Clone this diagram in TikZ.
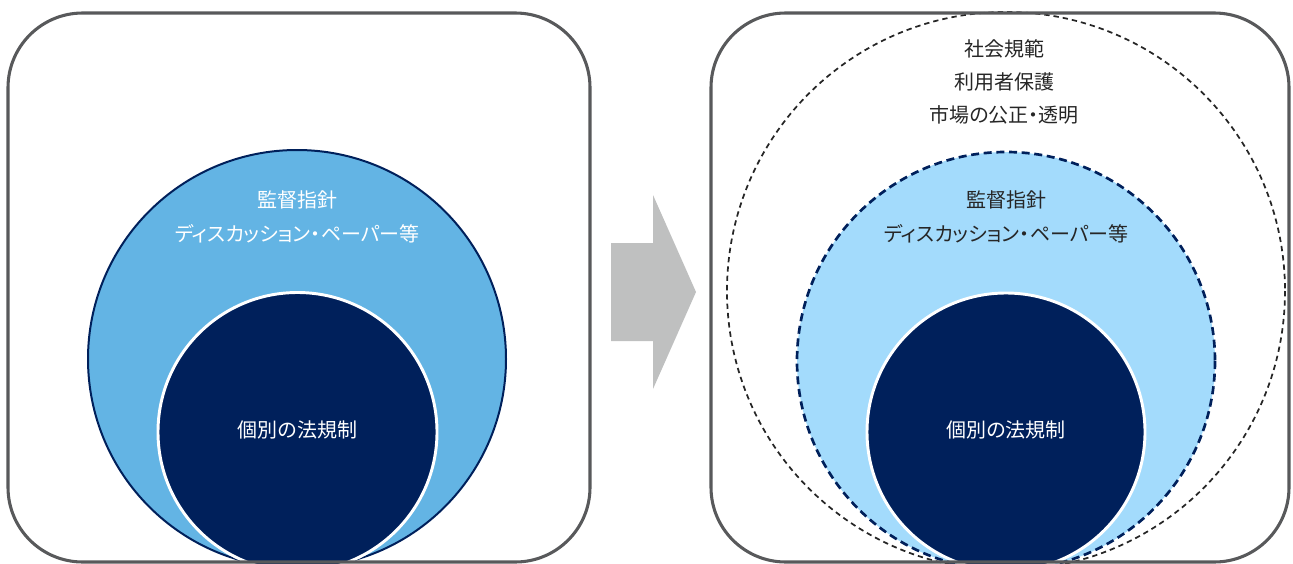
\documentclass[tikz,border=0pt]{standalone}
\usepackage{fontspec}
\newfontfamily\jpfont[RawFeature=+palt]{Noto Sans CJK JP}
\usetikzlibrary{positioning}
\definecolor{boxgray}{RGB}{88,89,91}
\definecolor{navy}{RGB}{0,32,91}
\definecolor{skyblue}{RGB}{99,180,228}
\definecolor{paleblue}{RGB}{163,219,252}
\definecolor{arrowgray}{RGB}{191,192,192}
\definecolor{textdark}{RGB}{38,38,38}

\begin{document}
\begin{tikzpicture}[x=0.75pt, y=-0.75pt,
    panel/.style={draw=boxgray, line width=2.3pt, rounded corners=56pt},
    lbl/.style={font=\jpfont\fontsize{15}{25}\selectfont, align=center, inner sep=0pt}]
\useasboundingbox (0,0) rectangle (1293,564);
\clip (0,0) rectangle (1293,564);

\begin{scope}
\filldraw[fill=skyblue, draw=navy, line width=1.5pt] (297,359) circle (209);
\filldraw[fill=navy, draw=white, line width=2.2pt] (297.5,432) circle (139.5);
\node[lbl, text=white] (guideL) at (297,217) {監督指針\\ディスカッション・ペーパー等};
\node[lbl, text=white] (lawL) at (297.5,430) {個別の法規制};
\draw[panel] (8,13) rectangle (590,562);
\end{scope}

\fill[arrowgray] (611,243) -- (653,243) -- (653,195) -- (696,292)
    -- (653,389) -- (653,341) -- (611,341) -- cycle;

\begin{scope}
\draw[black!85, line width=1.3pt, dash pattern=on 4pt off 3pt] (1006,291) circle (279);
\filldraw[fill=paleblue, draw=navy, line width=2pt, dash pattern=on 6pt off 3.5pt] (1006,361) circle (209);
\filldraw[fill=navy, draw=white, line width=2.2pt] (1006,432) circle (139);
\node[lbl, text=textdark] (normR) at (1004,82) {社会規範\\利用者保護\\市場の公正・透明};
\node[lbl, text=textdark] (guideR) at (1006,217) {監督指針\\ディスカッション・ペーパー等};
\node[lbl, text=white] (lawR) at (1006,430) {個別の法規制};
\draw[panel] (711,13) rectangle (1289,562);
\end{scope}
\end{tikzpicture}
\end{document}
